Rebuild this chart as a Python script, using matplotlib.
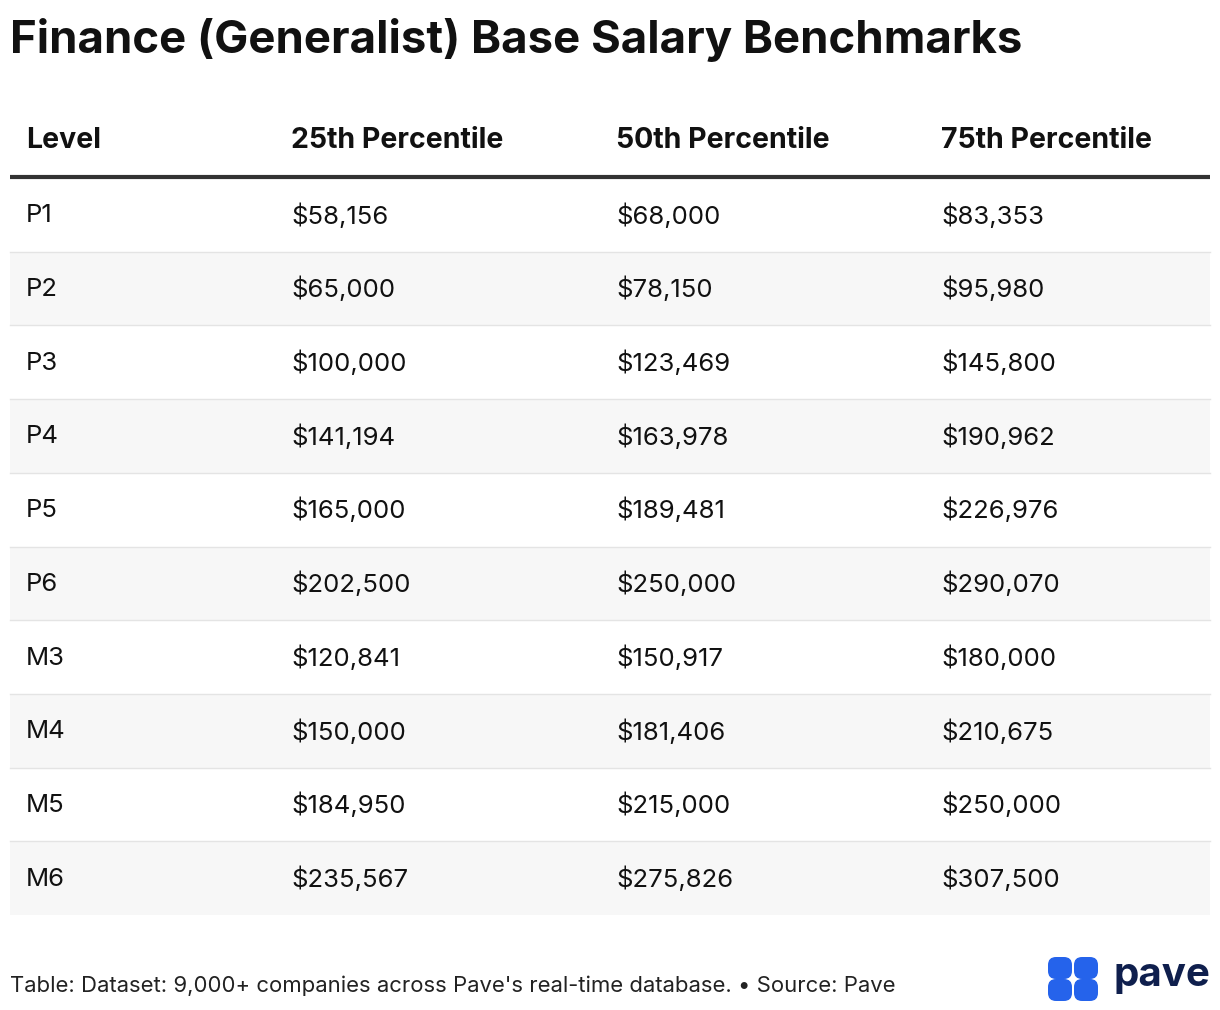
import matplotlib.pyplot as plt
from matplotlib.patches import Rectangle, FancyBboxPatch

levels = ["P1", "P2", "P3", "P4", "P5", "P6", "M3", "M4", "M5", "M6"]
p25 = ["$58,156", "$65,000", "$100,000", "$141,194", "$165,000",
       "$202,500", "$120,841", "$150,000", "$184,950", "$235,567"]
p50 = ["$68,000", "$78,150", "$123,469", "$163,978", "$189,481",
       "$250,000", "$150,917", "$181,406", "$215,000", "$275,826"]
p75 = ["$83,353", "$95,980", "$145,800", "$190,962", "$226,976",
       "$290,070", "$180,000", "$210,675", "$250,000", "$307,500"]
headers = ["Level", "25th Percentile", "50th Percentile", "75th Percentile"]

plt.rcParams['font.family'] = ['Inter', 'DejaVu Sans']

fig = plt.figure(figsize=(12.2, 10.1), dpi=100)
ax = fig.add_axes([0, 0, 1, 1])
ax.set_xlim(0, 1220)
ax.set_ylim(1010, 0)
ax.axis('off')

# Titel
ax.text(10, 40, "Finance (Generalist) Base Salary Benchmarks", fontsize=32.8,
        fontweight='bold', va='center', ha='left', color='#111111')

col_x = [26, 291, 616, 941]
for x, h in zip(col_x, headers):
    ax.text(x, 140, h, fontsize=20.5, fontweight='bold', va='center', color='#111111')
ax.plot([10, 1210], [177, 177], color='#333333', lw=3, solid_capstyle='butt')

row_h = 73.7
top = 178
for i, row in enumerate(zip(levels, p25, p50, p75)):
    y0 = top + i * row_h
    if i % 2 == 1:
        ax.add_patch(Rectangle((10, y0), 1200, row_h, color='#f7f7f7', lw=0))
    if i < len(levels) - 1:
        ax.plot([10, 1210], [y0 + row_h, y0 + row_h], color='#e4e4e4', lw=1)
    for x, val in zip(col_x, row):
        ax.text(x, y0 + row_h / 2 + 1, val, fontsize=18.5, va='center', color='#111111')

ax.text(10, 986, "Table: Dataset: 9,000+ companies across Pave's real-time database. \u2022 Source: Pave",
        fontsize=15.9, va='center', color='#222222')

# Logo
blue = '#2563eb'
for (bx, by) in [(1048, 957), (1074, 957), (1048, 979), (1074, 979)]:
    ax.add_patch(FancyBboxPatch((bx + 4, by + 4), 16, 14,
                                boxstyle="round,pad=4,rounding_size=8",
                                color=blue, lw=0))
ax.text(1210, 976, "pave", fontsize=29, fontweight='bold', va='center',
        ha='right', color='#0f1f4d')

fig.savefig("out.png", dpi=100)
